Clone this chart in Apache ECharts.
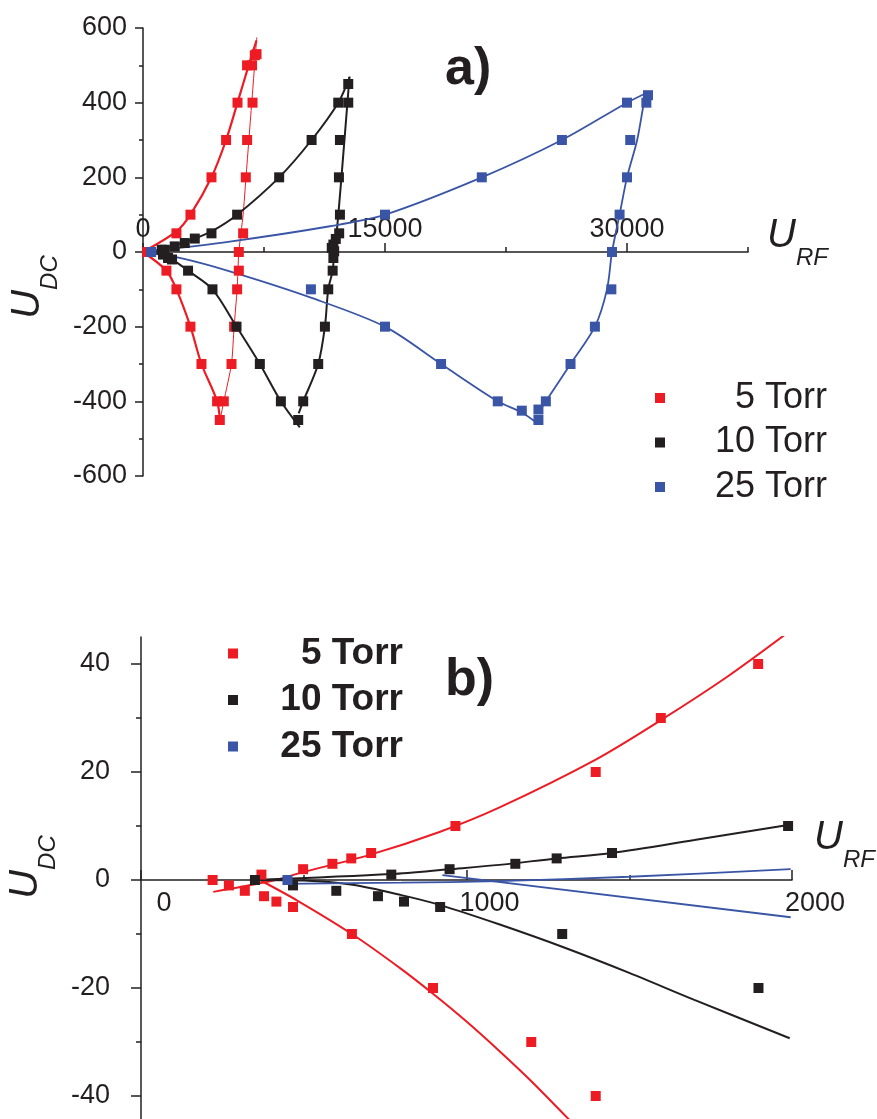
<!DOCTYPE html>
<html>
<head>
<meta charset="utf-8">
<script src="https://cdn.jsdelivr.net/npm/echarts@6/dist/echarts.min.js"></script>
<style>
html,body{margin:0;padding:0;background:#fff;}
#c{width:877px;height:1119px;}
</style>
</head>
<body>
<div id="c"></div>
<script>
// ---------- DATA ----------
const seriesNames = ['5 Torr', '10 Torr', '25 Torr'];

// panel a) measured points [U_RF, U_DC]
const aRed5 = [[250,0],[1452,-50],[2072,50],[2072,-100],[2941,100],[2941,-200],[3624,-300],[4244,200],
  [4593,-400],[4760,-450],[5008,-400],[5150,300],[5486,-300],[5648,-200],[5834,-100],[5858,400],[5939,-50],
  [5939,0],[6206,50],[6373,200],[6454,300],[6450,500],[6789,400],[6760,500],[6930,527],[7037,530]];
const aBlack10 = [[1160,6],[1350,6],[1967,15],[2590,24],[3210,36],[4244,50],[5834,100],[8440,200],[10450,300],
  [12102,400],[12722,450],[12722,400],[12207,300],[12145,200],[12207,100],[12160,50],[11950,35],[11800,20],
  [11700,11],[11850,2],[11800,-16],[11755,-50],[11482,-100],[11276,-200],[10861,-300],[9930,-400],[9620,-450],
  [8546,-400],[7242,-300],[5796,-200],[4307,-100],[2793,-50],[1800,-20],[1241,-7],[1552,-16]];
const aBlue25 = [[500,0],[10408,-100],[15000,100],[21000,200],[25965,300],[30000,400],[31300,420],[31200,400],
  [30200,300],[30000,200],[29540,100],[29070,0],[29030,-100],[28010,-200],[26500,-300],[24970,-400],
  [24510,-422],[24510,-450],[23480,-425],[21990,-400],[18475,-300],[15000,-200]];

// panel a) fitted curves (read from the picture)
const aRedUpFit = [[0,0],[2072,55],[2941,100],[4244,200],[5150,300],[5858,400],[6550,500],[7037,567]];
const aRedDownFit = [[0,0],[1452,-50],[2072,-100],[2941,-200],[3624,-300],[4593,-400],[4790,-462]];
const aRedThinFit = [[4760,-455],[5008,-400],[5486,-300],[5648,-200],[5834,-100],[5939,0],[6206,100],
  [6384,200],[6562,300],[6740,400],[6918,500],[7050,575]];
const aBlackUpFit = [[0,0],[1160,6],[2000,18],[3210,36],[4244,55],[5834,100],[8440,200],[10450,300],[12102,400],[12800,468]];
const aBlackRightFit = [[12800,470],[12300,200],[12000,50],[11850,0],[11755,-50],[11482,-100],[11276,-200],
  [10861,-300],[9930,-400],[9650,-432]];
const aBlackDownFit = [[0,0],[1241,-7],[1800,-20],[2793,-50],[4307,-100],[5796,-200],[7242,-300],[8546,-400],[9720,-470]];
const aBlueUpFit = [[0,0],[5380,28],[11590,69],[15000,100],[21000,200],[25965,300],[30000,400],[31300,428]];
const aBlueDownFit = [[0,0],[2277,-16],[5380,-52],[10450,-123],[15000,-200],[18475,-300],[21990,-400],[23480,-430],[24410,-458]];
const aBlueRightFit = [[24510,-431],[24970,-400],[26500,-300],[28010,-200],[28760,-100],[29070,0],[29540,100],
  [30000,200],[30630,300],[31130,417],[31300,430]];

// panel b) measured points
const bRed5 = [[220,0],[270,-1],[319,-2],[370,1],[378,-3],[416,-4],[467,-5],[498,2],[588,3],[646,4],[707,5],
  [966,10],[1397,20],[1597,30],[1896,40],[648,-10],[897,-20],[1199,-30],[1397,-40]];
const bBlack10 = [[350,0],[467,-1],[600,-2],[728,-3],[808,-4],[919,-5],[769,1],[948,2],[1150,3],[1277,4],
  [1447,5],[1988,10],[1294,-10],[1897,-20]];
const bBlue25 = [[450,0]];

// panel b) fitted curves
const bRedUpFit = [[222,-2.2],[400,-0.2],[500,1.5],[700,4.6],[917,8.9],[1100,13.4],[1397,22.3],[1597,29.6],[1800,37.6],[1980,45.5]];
const bRedDownFit = [[365,0],[480,-3.8],[648,-10],[800,-16.5],[900,-21.2],[1000,-26.2],[1100,-31.6],[1200,-37.3],[1330,-45.3]];
const bBlackUpFit = [[350,0],[769,1.1],[948,2],[1101,2.8],[1277,4],[1447,5],[1700,7.4],[1988,10.2]];
const bBlackDownFit = [[350,0],[500,-0.1],[650,-0.9],[800,-2.8],[917,-4.6],[1100,-8.2],[1300,-12.5],[1500,-17.2],[1700,-22.2],[1993,-29.3]];
const bBlueUpFit = [[437,-0.7],[800,-0.5],[1100,-0.2],[1500,0.6],[1996,2.0]];
const bBlueDownFit = [[926,0.9],[1996,-6.9]];

// tick values / labels
const aXMajor = [0, 15000, 30000];
const aXMinor = [7500, 22500, 37500];
const bXMajor = [0, 1000, 2000];
const bXMinor = [500, 1500];
const bYMajor = [-40, -20, 0, 20, 40];
const bYMinor = [-30, -10, 10, 30];

// ---------- STYLE ----------
const RED = '#ED1C24', BLACK = '#231F20', BLUE = '#3A55A5';
const FONT = '"Liberation Sans", Arial, Helvetica, sans-serif';
const axisColor = '#231F20';
const plain = v => String(v);

const nameRich = {
  u: {fontSize: 40, fontStyle: 'italic', fontFamily: FONT, color: BLACK, verticalAlign: 'bottom', lineHeight: 44},
  s: {fontSize: 24, fontStyle: 'italic', fontFamily: FONT, color: BLACK, verticalAlign: 'bottom', padding: [0,0,-14,0], lineHeight: 44}
};

function scatter(name, data, xi, yi, color) {
  return {type: 'scatter', name, data, xAxisIndex: xi, yAxisIndex: yi, symbol: 'rect', symbolSize: 10,
    itemStyle: {color, opacity: 1}, z: 4, clip: true, emphasis: {disabled: true}};
}
function fit(id, data, xi, yi, color, width, smooth) {
  return {type: 'line', name: id, data, xAxisIndex: xi, yAxisIndex: yi, showSymbol: false, symbol: 'none',
    smooth: smooth == null ? 0.3 : smooth, lineStyle: {color, width}, itemStyle: {color}, z: 2, clip: true,
    emphasis: {disabled: true}};
}

// grid geometry: a) top 28 / height 448 -> zero line 224 px above bottom edge
//                b) top 637 / height 486 -> zero line 243 px above bottom edge
const chart = echarts.init(document.getElementById('c'), null, {renderer: 'canvas'});
const option = {
  animation: false,
  backgroundColor: '#fff',
  textStyle: {fontFamily: FONT},
  title: [
    {text: 'a)', left: 440, top: 39, textStyle: {fontSize: 52, fontWeight: 'bold', color: BLACK, fontFamily: FONT}},
    {text: 'b)', left: 440, top: 650, textStyle: {fontSize: 52, fontWeight: 'bold', color: BLACK, fontFamily: FONT}}
  ],
  legend: [
    {data: seriesNames, orient: 'vertical', left: 650, top: 375, icon: 'rect', itemWidth: 10, itemHeight: 10,
      itemGap: 8.5, selectedMode: false, itemStyle: {opacity: 1},
      formatter: n => '{n|' + n + '}',
      textStyle: {rich: {n: {width: 157, align: 'right', fontSize: 36, lineHeight: 36, color: BLACK, fontFamily: FONT}}}},
    {data: seriesNames, orient: 'vertical', left: 223, top: 630, icon: 'rect', itemWidth: 10, itemHeight: 10,
      itemGap: 9.5, selectedMode: false, itemStyle: {opacity: 1},
      formatter: n => '{n|' + n + '}',
      textStyle: {rich: {n: {width: 160, align: 'right', fontSize: 37, lineHeight: 37, fontWeight: 'bold', color: BLACK, fontFamily: FONT}}}}
  ],
  grid: [
    {left: 143, right: 129, top: 28, bottom: 643, outerBoundsMode: 'none', containLabel: false},
    {left: 141, right: 85, top: 637, bottom: -4, outerBoundsMode: 'none', containLabel: false}
  ],
  xAxis: [
    {gridIndex: 0, type: 'value', min: 0, max: 37500, interval: 7500, position: 'bottom', offset: -224,
      name: '{u|U}{s|RF}', nameLocation: 'end', nameGap: 19, nameTextStyle: {rich: nameRich, padding: [0,0,36,0]},
      axisLine: {onZero: false, lineStyle: {color: axisColor, width: 1.5}},
      axisTick: {show: true, inside: true, length: 9, customValues: aXMajor, lineStyle: {color: axisColor, width: 1.5}},
      axisLabel: {inside: true, margin: 9, customValues: aXMajor, formatter: plain, fontSize: 27, color: BLACK, fontFamily: FONT},
      splitLine: {show: false}},
    {gridIndex: 1, type: 'value', min: 0, max: 2000, interval: 500, position: 'bottom', offset: -243,
      name: '{u|U}{s|RF}', nameLocation: 'end', nameGap: 22, nameTextStyle: {rich: nameRich, padding: [0,0,88,0]},
      axisLine: {onZero: false, lineStyle: {color: axisColor, width: 1.5}},
      axisTick: {show: true, inside: true, length: 10, customValues: bXMajor, lineStyle: {color: axisColor, width: 1.5}},
      axisLabel: {margin: 10, customValues: bXMajor, formatter: plain, fontSize: 27, color: BLACK, fontFamily: FONT, padding: [0,0,0,46]},
      splitLine: {show: false}},
    {gridIndex: 0, type: 'value', min: 0, max: 37500, interval: 7500, position: 'bottom', offset: -224,
      axisLine: {show: false, onZero: false},
      axisTick: {show: true, inside: true, length: 5, customValues: aXMinor, lineStyle: {color: axisColor, width: 1.5}},
      axisLabel: {show: false}, splitLine: {show: false}},
    {gridIndex: 1, type: 'value', min: 0, max: 2000, interval: 500, position: 'bottom', offset: -243,
      axisLine: {show: false, onZero: false},
      axisTick: {show: true, inside: true, length: 5, customValues: bXMinor, lineStyle: {color: axisColor, width: 1.5}},
      axisLabel: {show: false}, splitLine: {show: false}}
  ],
  yAxis: [
    {gridIndex: 0, type: 'value', min: -600, max: 600, interval: 200, position: 'left',
      name: '{u|U}{s|DC}', nameLocation: 'middle', nameRotate: 90, nameGap: 84,
      nameTextStyle: {rich: nameRich, padding: [0, 70, 0, 0]},
      axisLine: {show: true, onZero: false, lineStyle: {color: axisColor, width: 1.5}},
      axisTick: {show: true, length: 8, lineStyle: {color: axisColor, width: 1.5}},
      minorTick: {show: true, splitNumber: 2, length: 4, lineStyle: {color: axisColor, width: 1.5}},
      axisLabel: {margin: 16, formatter: plain, fontSize: 27, color: BLACK, fontFamily: FONT},
      splitLine: {show: false}, minorSplitLine: {show: false}},
    {gridIndex: 1, type: 'value', min: -45, max: 45, position: 'left',
      name: '{u|U}{s|DC}', nameLocation: 'middle', nameRotate: 90, nameGap: 84,
      nameTextStyle: {rich: nameRich, padding: [0, 0, 0, 26]},
      axisLine: {show: true, onZero: false, lineStyle: {color: axisColor, width: 1.5}},
      axisTick: {show: true, length: 10, customValues: bYMajor, lineStyle: {color: axisColor, width: 1.5}},
      axisLabel: {margin: 31, customValues: bYMajor, formatter: plain, fontSize: 27, color: BLACK, fontFamily: FONT},
      splitLine: {show: false}},
    {gridIndex: 1, type: 'value', min: -45, max: 45, position: 'left',
      axisLine: {show: false, onZero: false},
      axisTick: {show: true, length: 5, customValues: bYMinor, lineStyle: {color: axisColor, width: 1.5}},
      axisLabel: {show: false}, splitLine: {show: false}}
  ],
  series: [
    fit('a5up', aRedUpFit, 0, 0, RED, 2.2),
    fit('a5down', aRedDownFit, 0, 0, RED, 2.2),
    fit('a5thin', aRedThinFit, 0, 0, RED, 1, 0.2),
    fit('a10up', aBlackUpFit, 0, 0, BLACK, 2),
    fit('a10right', aBlackRightFit, 0, 0, BLACK, 2),
    fit('a10down', aBlackDownFit, 0, 0, BLACK, 2),
    fit('a25up', aBlueUpFit, 0, 0, BLUE, 1.8),
    fit('a25down', aBlueDownFit, 0, 0, BLUE, 1.8),
    fit('a25right', aBlueRightFit, 0, 0, BLUE, 1.8),
    scatter('5 Torr', aRed5, 0, 0, RED),
    scatter('10 Torr', aBlack10, 0, 0, BLACK),
    scatter('25 Torr', aBlue25, 0, 0, BLUE),

    fit('b5up', bRedUpFit, 1, 1, RED, 2),
    fit('b5down', bRedDownFit, 1, 1, RED, 2),
    fit('b10up', bBlackUpFit, 1, 1, BLACK, 2),
    fit('b10down', bBlackDownFit, 1, 1, BLACK, 2),
    fit('b25up', bBlueUpFit, 1, 1, BLUE, 1.8),
    fit('b25down', bBlueDownFit, 1, 1, BLUE, 1.8, false),
    scatter('5 Torr', bRed5, 1, 1, RED),
    scatter('10 Torr', bBlack10, 1, 1, BLACK),
    scatter('25 Torr', bBlue25, 1, 1, BLUE)
  ]
};
chart.setOption(option);
</script>
</body>
</html>
